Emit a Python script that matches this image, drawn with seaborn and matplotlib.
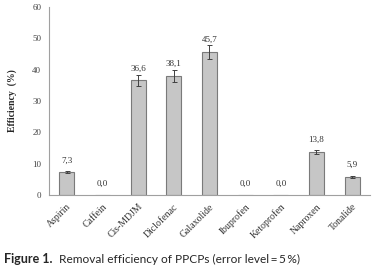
import pandas as pd
import numpy as np
import matplotlib
matplotlib.use('Agg')
import matplotlib.pyplot as plt
import seaborn as sns

compounds = ['Aspirin', 'Caffein', 'Cis-MDJM', 'Diclofenac', 'Galaxolide',
             'Ibuprofen', 'Ketoprofen', 'Naproxen', 'Tonalide']
efficiency = [7.3, 0.0, 36.6, 38.1, 45.7, 0.0, 0.0, 13.8, 5.9]
error = [0.37, 0.0, 1.83, 1.9, 2.29, 0.0, 0.0, 0.69, 0.3]

df = pd.DataFrame({'Compound': compounds, 'Efficiency': efficiency, 'Error': error})

sns.set_theme(style="white")
plt.rcParams['font.family'] = ['Liberation Serif', 'DejaVu Serif']

fig = plt.figure(figsize=(3.73, 2.74), dpi=100)
ax = fig.add_axes([0.131, 0.288, 0.861, 0.686])

sns.barplot(data=df, x='Compound', y='Efficiency', color='#c6c6c6',
            edgecolor='#7a7a7a', linewidth=0.8, width=0.42, saturation=1, ax=ax)

xs = np.arange(len(compounds))
ax.errorbar(xs, df['Efficiency'], yerr=df['Error'], fmt='none', ecolor='#404040',
            elinewidth=0.7, capsize=1.8, capthick=0.7)

for x, v in zip(xs, efficiency):
    ax.annotate(f'{v:.1f}'.replace('.', ','), (x, v), xytext=(0, 5.5),
                textcoords='offset points', ha='center', va='bottom',
                fontsize=6.5, color='#333333')

ax.set_ylim(0, 60)
ax.set_yticks(range(0, 61, 10))
ax.set_xlim(-0.5, len(compounds) - 0.5)
ax.set_xlabel('')
ax.set_ylabel('Efficiency  (%)', fontsize=7, fontweight='bold', labelpad=11)

ax.set_xticks(xs)
ax.set_xticklabels(compounds, rotation=45, ha='right', rotation_mode='anchor',
                   fontsize=7, color='#333333')
ax.tick_params(axis='x', length=0, pad=5)
ax.set_xticks(np.arange(-0.5, len(compounds)), minor=True)
ax.tick_params(axis='x', which='minor', length=3, color='#a0a0a0', width=0.7, direction='out')
ax.tick_params(axis='y', length=3, color='#a0a0a0', width=0.7, direction='out',
               labelsize=6.5, labelcolor='#444444', pad=2.5)

for s in ['top', 'right']:
    ax.spines[s].set_visible(False)
for s in ['left', 'bottom']:
    ax.spines[s].set_color('#a0a0a0')
    ax.spines[s].set_linewidth(0.8)

fig.text(0.01, 0.04, 'Figure 1.', fontsize=9, fontweight='bold', family=['Lato', 'DejaVu Sans'])
fig.text(0.157, 0.04, 'Removal efficiency of PPCPs (error level\u2009=\u20095\u2009%)', fontsize=8.6,
         family=['Lato', 'DejaVu Sans'])

fig.savefig('out.png', dpi=100)
